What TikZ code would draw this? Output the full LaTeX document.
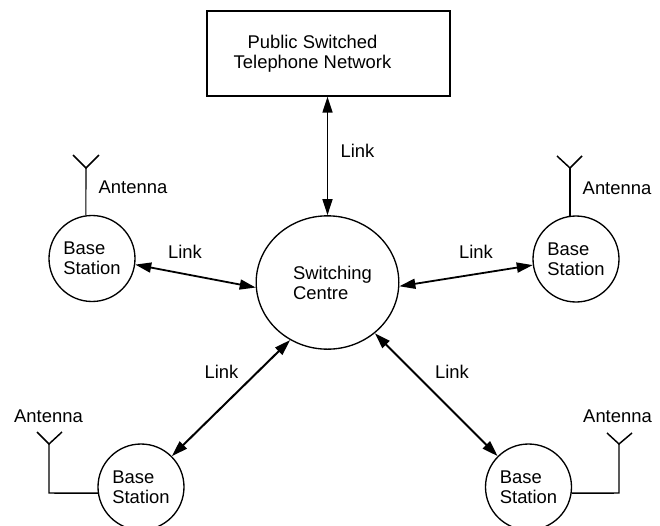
\documentclass[tikz,border=0pt]{standalone}
\usepackage{fontspec}
\setmainfont{Liberation Sans}
\usetikzlibrary{arrows.meta,shapes.geometric}
\tikzset{
 px/.style={x=0.75pt,y=-0.75pt},
 circ/.style={draw,circle,line width=1pt,inner sep=0pt,align=left,minimum size=64.5pt,font=\fontsize{13.8}{15}\selectfont},
 lbl/.style={inner sep=0pt,font=\fontsize{13.8}{15}\selectfont,align=center},
 link/.style={line width=1.35pt,{Triangle[length=12pt,width=7.5pt]}-{Triangle[length=12pt,width=7.5pt]}},
 wire/.style={line width=1.1pt}
}
\begin{document}
\begin{tikzpicture}[px]
\useasboundingbox (0,0) rectangle (660,525);
\node[draw,line width=1.2pt,minimum width=182pt,minimum height=63.5pt,inner sep=0pt,font=\fontsize{13.8}{15}\selectfont,align=center] (psn) at (328.5,53.5) {\kern-24pt Public Switched\\\kern-24pt Telephone Network};
\node[draw,ellipse,line width=1pt,inner sep=0pt,align=left,minimum width=107pt,minimum height=100pt,font=\fontsize{13.8}{15}\selectfont] (sc) at (327.5,282.5) {\hspace*{7.5pt}Switching\\\hspace*{7.5pt}Centre};
\node[circ] (bs1) at (92,258.5) {Base\\Station};
\node[circ] (bs2) at (576,259) {Base\\Station};
\node[circ] (bs3) at (141,487) {Base\\Station};
\node[circ] (bs4) at (528.5,487) {Base\\Station};
\draw[link,line width=1.1pt] (psn.south -| sc.north) -- (sc.north);
\draw[link] (bs1.-8.6) -- (sc.184);
\draw[link] (bs2.188) -- (sc.-3.6);
\draw[link,line width=1.5pt] (bs3.45) -- (sc.237);
\draw[link,line width=1.5pt] (bs4.135) -- (sc.-47);
\node[lbl] (l0) at (357.5,151) {Link};
\node[lbl] (l1) at (185,252) {Link};
\node[lbl] (l2) at (476,252) {Link};
\node[lbl] (l3) at (221.5,372) {Link};
\node[lbl] (l4) at (452,372) {Link};
\node[lbl] (a1) at (133,187) {Antenna};
\node[lbl] (a2) at (617,188) {Antenna};
\node[lbl] (a3) at (48.5,416) {Antenna};
\node[lbl] (a4) at (617.5,416) {Antenna};
% antennas
\coordinate (t1) at (86,168);
\coordinate (t1a) at (73,155);
\coordinate (t1b) at (99,155);
\draw[wire,line width=0.8pt] (bs1.98) -- (t1);
\draw[wire] (t1a) -- (t1) -- (t1b);
\coordinate (t2) at (570,168);
\coordinate (t2a) at (557,156);
\coordinate (t2b) at (582,156);
\draw[wire,line width=1.4pt] (bs2.98) -- (t2);
\draw[wire] (t2a) -- (t2) -- (t2b);
\coordinate (t3) at (49,444);
\coordinate (t3a) at (37,432);
\coordinate (t3b) at (62,432);
\coordinate (t3c) at (49,493);
\draw[wire] (bs3.188) -- (t3c) -- (t3);
\draw[wire] (t3a) -- (t3) -- (t3b);
\coordinate (t4) at (619,444);
\coordinate (t4a) at (607,433);
\coordinate (t4b) at (632,433);
\coordinate (t4c) at (619,493);
\draw[wire] (bs4.-8) -- (t4c) -- (t4);
\draw[wire] (t4a) -- (t4) -- (t4b);
\end{tikzpicture}
\end{document}
